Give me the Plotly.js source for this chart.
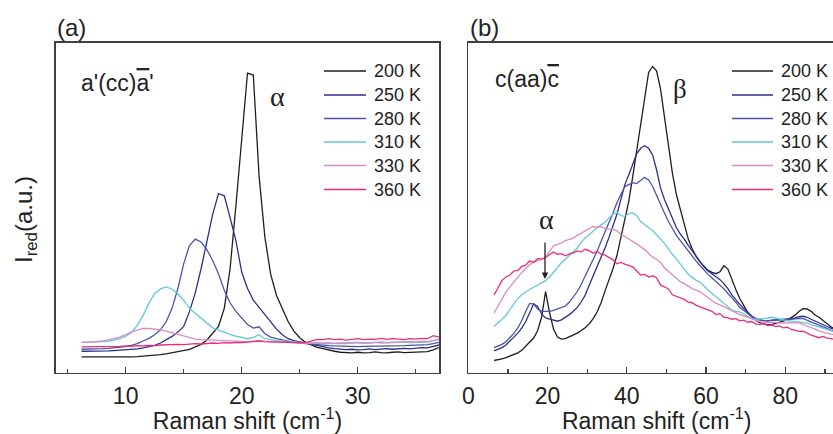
<!DOCTYPE html>
<html>
<head>
<meta charset="utf-8">
<script src="https://cdn.plot.ly/plotly-3.0.1.min.js"></script>
<style>
html,body{margin:0;padding:0;overflow:hidden;background:#fff;width:833px;height:434px;}
#chart{width:846px;height:434px;}
</style>
</head>
<body>
<div id="chart"></div>
<script>
// ---------- data ----------
const seriesNames = ['200 K', '250 K', '280 K', '310 K', '330 K', '360 K'];
const seriesColors = ['#1e1e1e', '#2b2f8c', '#4b55a6', '#62c9d8', '#d98bc6', '#ea2f78'];

// panel (a): a'(cc)a' spectra
const xA = [6.2, 6.5, 7, 7.5, 8, 8.5, 9, 9.5, 10, 10.5, 11, 11.5, 12, 12.5, 13, 13.5, 14, 14.5, 15, 15.5,
  16, 16.5, 17, 17.5, 18, 18.5, 19, 19.5, 20, 20.5, 21, 21.5, 22, 22.5, 23, 23.5, 24, 24.5, 25, 25.5,
  26, 26.5, 27, 27.5, 28, 28.5, 29, 29.5, 30, 30.5, 31, 31.5, 32, 32.5, 33, 33.5, 34, 34.5, 35, 35.5,
  36, 36.5, 37];
const a200 = [4.8, 4.8, 4.7, 4.7, 4.6, 4.7, 4.6, 4.7, 4.8, 4.8, 4.9, 5.0, 5.1, 5.3, 5.5, 5.7, 6.0, 6.4, 6.8, 7.1,
  7.8, 8.6, 9.9, 11.8, 14.0, 19.5, 31.5, 50.5, 71.5, 90.8, 90.2, 59.5, 41.0, 29.8, 23.4, 19.2, 15.5, 12.6, 10.6, 9.2,
  8.5, 7.7, 7.3, 6.8, 6.5, 6.2, 6.1, 6.0, 6.2, 6.0, 6.1, 6.3, 6.1, 6.0, 6.2, 6.3, 6.1, 6.2, 6.4, 6.3,
  6.4, 6.9, 7.6];
const a250 = [6.5, 6.5, 6.4, 6.5, 6.5, 6.6, 6.7, 6.8, 6.9, 7.0, 7.2, 7.5, 7.8, 8.3, 9.0, 9.9, 11.0, 12.3, 14.0, 18.5,
  24.2, 31.5, 39.5, 48.0, 54.3, 53.6, 47.0, 40.0, 30.5, 25.5, 22.0, 19.8, 17.8, 15.3, 13.2, 11.5, 10.3, 9.7, 9.3, 9.0,
  8.5, 8.1, 7.8, 7.5, 7.3, 7.1, 7.0, 7.1, 6.9, 7.0, 7.2, 7.0, 7.1, 7.3, 7.1, 7.2, 7.4, 7.2, 7.5, 7.6,
  7.5, 7.9, 8.4];
const a280 = [7.1, 7.1, 7.2, 7.2, 7.3, 7.4, 7.5, 7.7, 7.9, 8.3, 8.8, 9.6, 10.4, 11.5, 13.0, 15.5, 19.5, 25.5, 33.0, 38.5,
  40.5, 39.6, 37.3, 34.0, 30.0, 25.0, 21.2, 18.6, 16.5, 14.6, 13.5, 13.9, 11.8, 10.8, 10.3, 9.9, 9.5, 9.2, 9.0, 8.8,
  8.6, 8.4, 8.3, 8.2, 8.1, 8.0, 8.0, 7.9, 7.9, 8.0, 8.0, 8.2, 8.1, 8.0, 8.0, 8.1, 8.2, 8.3, 8.3, 8.4,
  8.5, 8.8, 9.2];
const a310 = [9.2, 9.2, 9.3, 9.3, 9.4, 9.5, 9.8, 10.3, 11.0, 12.2, 14.3, 17.3, 21.0, 24.0, 25.4, 26.0, 25.3, 23.9, 21.9, 19.6,
  18.0, 16.5, 14.8, 13.6, 12.9, 12.2, 11.6, 11.1, 10.6, 10.3, 10.7, 11.5, 10.3, 9.9, 9.7, 9.6, 9.4, 9.3, 9.1, 9.0,
  8.9, 9.0, 8.8, 8.9, 9.0, 8.9, 8.8, 9.0, 9.1, 8.9, 9.0, 9.2, 9.0, 9.1, 9.0, 9.2, 9.3, 9.1, 9.2, 9.4,
  9.3, 9.7, 10.2];
const a330 = [9.2, 9.2, 9.3, 9.4, 9.6, 9.9, 10.3, 10.8, 11.6, 12.3, 12.9, 13.4, 13.4, 13.3, 13.0, 12.6, 12.1, 11.6, 11.1, 10.6,
  10.2, 10.0, 9.9, 9.8, 9.7, 9.6, 9.6, 9.5, 9.5, 9.5, 9.6, 9.6, 9.5, 9.4, 9.3, 9.2, 9.2, 9.1, 9.0, 9.0,
  9.0, 8.9, 9.0, 9.1, 8.9, 9.0, 9.1, 9.0, 9.2, 9.1, 9.0, 9.2, 9.3, 9.1, 9.2, 9.3, 9.2, 9.4, 9.3, 9.5,
  9.4, 9.8, 10.0];
const a360 = [7.8, 7.8, 7.9, 7.8, 7.9, 8.0, 7.9, 8.0, 8.1, 8.0, 8.2, 8.1, 8.3, 8.2, 8.4, 8.5, 8.4, 8.6, 8.5, 8.7,
  8.8, 8.7, 8.9, 9.0, 8.9, 9.1, 9.0, 9.2, 9.1, 9.3, 9.4, 9.6, 9.4, 9.3, 9.4, 9.2, 9.3, 9.1, 9.2, 9.1,
  9.6, 10.1, 10.0, 10.3, 10.0, 10.2, 9.9, 10.1, 10.3, 10.0, 10.2, 10.1, 10.4, 10.1, 10.3, 10.2, 10.0, 10.3, 10.2, 10.4,
  10.3, 11.2, 10.8];

// panel (b): c(aa)c spectra
const xB = [6.5, 7.5, 8.5, 9.5, 10.5, 11.5, 12.5, 13.5, 14.5, 15.5,
  16.5, 17.5, 18.5, 19.5, 20.5, 21.5, 22.5, 23.5, 24.5, 25.5,
  26.5, 27.5, 28.5, 29.5, 30.5, 31.5, 32.5, 33.5, 34.5, 35.5,
  36.5, 37.5, 38.5, 39.5, 40.5, 41.5, 42.5, 43.5, 44.5, 45.5,
  46.5, 47.5, 48.5, 49.5, 50.5, 51.5, 52.5, 53.5, 54.5, 55.5,
  56.5, 57.5, 58.5, 59.5, 60.5, 61.5, 62.5, 63.5, 64.5, 65.5,
  66.5, 67.5, 68.5, 69.5, 70.5, 71.5, 72.5, 73.5, 74.5, 75.5,
  76.5, 77.5, 78.5, 79.5, 80.5, 81.5, 82.5, 83.5, 84.5, 85.5,
  86.5, 87.5, 88.5, 89.5, 90.5, 91.5, 92.5];
const b200 = [3.7, 3.9, 4.2, 4.6, 5.0, 5.4, 6.0, 6.8, 7.9, 9.3,
  10.5, 12.8, 16.8, 24.6, 18.2, 13.2, 10.8, 10.2, 10.3, 10.8,
  11.4, 12.0, 12.8, 13.6, 14.8, 16.4, 18.4, 21.2, 24.8, 28.0,
  31.5, 35.5, 41.0, 46.0, 52.0, 59.5, 67.5, 75.5, 84.5, 91.0,
  92.8, 91.5, 86.0, 77.5, 68.0, 60.5, 54.0, 49.5, 45.0, 40.5,
  37.5, 35.2, 33.5, 32.2, 31.0, 30.4, 30.0, 30.6, 32.4, 31.4,
  28.0, 25.2, 22.5, 20.3, 18.3, 17.0, 15.9, 15.2, 14.8, 14.5,
  14.6, 14.9, 15.3, 15.5, 16.0, 16.7, 17.5, 18.6, 19.4, 19.3,
  18.6, 17.5, 16.8, 15.8, 14.8, 13.9, 13.2];
const b250 = [6.6, 7.0, 7.6, 8.4, 9.5, 10.6, 12.0, 13.6, 15.5, 18.2,
  20.9, 20.0, 17.8, 16.6, 16.3, 15.8, 15.6, 16.0, 16.7, 17.6,
  18.6, 19.8, 21.5, 23.5, 26.5, 29.3, 31.8, 34.6, 37.8, 41.0,
  44.5, 48.0, 52.5, 57.0, 60.0, 63.2, 66.4, 68.0, 68.8, 68.0,
  66.0, 61.5, 56.0, 52.5, 49.5, 46.5, 44.0, 42.0, 40.5, 38.6,
  37.0, 35.5, 33.8, 32.0, 30.8, 30.0, 29.1, 28.2, 27.0, 25.5,
  23.6, 22.0, 20.7, 19.5, 18.2, 17.2, 16.5, 16.0, 15.8, 15.7,
  15.9, 16.0, 16.1, 16.0, 16.2, 16.4, 16.6, 17.0, 17.1, 16.8,
  16.2, 15.6, 15.2, 14.6, 14.0, 13.5, 13.1];
const b280 = [7.6, 8.0, 8.6, 9.4, 10.5, 11.9, 13.6, 15.8, 18.6, 21.0,
  20.8, 19.3, 18.6, 18.5, 18.6, 18.9, 19.3, 19.7, 20.2, 21.4,
  22.9, 24.6, 26.8, 29.2, 31.6, 34.2, 36.8, 39.8, 42.5, 45.3,
  48.3, 51.5, 54.2, 56.4, 57.0, 57.6, 57.3, 58.3, 59.2, 58.4,
  56.5, 53.8, 50.8, 48.4, 45.8, 43.6, 41.6, 40.0, 38.4, 36.8,
  35.3, 33.8, 32.4, 31.0, 29.8, 28.7, 27.6, 26.6, 25.4, 24.0,
  22.8, 21.4, 19.8, 18.8, 17.8, 17.0, 16.4, 16.0, 15.8, 15.7,
  15.8, 16.0, 15.9, 16.1, 16.0, 16.2, 16.3, 16.5, 16.4, 15.9,
  15.3, 14.8, 14.4, 13.8, 13.4, 12.9, 12.6];
const b310 = [14.0, 15.0, 16.2, 17.4, 19.2, 20.8, 22.5, 23.6, 24.5, 25.3,
  25.9, 26.6, 27.2, 27.9, 29.0, 30.5, 32.0, 33.3, 34.4, 35.6,
  36.6, 37.8, 39.5, 40.9, 41.8, 43.0, 44.0, 44.8, 45.6, 46.9,
  48.0, 48.6, 47.6, 47.4, 48.2, 48.5, 47.6, 45.8, 44.8, 43.9,
  43.1, 41.8, 40.6, 39.2, 37.5, 35.8, 34.5, 33.0, 31.2, 29.8,
  28.8, 28.0, 27.5, 26.2, 25.0, 24.0, 23.0, 22.0, 21.0, 20.0,
  19.0, 18.6, 18.4, 17.8, 17.0, 16.4, 16.2, 16.3, 16.2, 16.5,
  16.8, 16.5, 16.3, 16.0, 15.8, 15.6, 15.5, 15.4, 15.2, 15.0,
  14.6, 14.2, 13.8, 13.4, 13.0, 12.6, 12.4];
const b330 = [18.1, 20.0, 22.3, 24.5, 26.0, 27.6, 29.0, 30.4, 31.6, 32.8,
  33.5, 33.8, 34.3, 35.0, 36.8, 38.4, 38.9, 39.3, 40.0, 40.4,
  40.8, 41.6, 42.3, 42.8, 43.6, 44.3, 44.0, 44.2, 43.8, 43.5,
  43.5, 43.0, 41.8, 41.3, 40.5, 39.8, 39.0, 38.2, 37.3, 36.0,
  35.0, 34.4, 33.4, 31.8, 30.8, 29.8, 28.6, 27.6, 27.0, 26.2,
  25.5, 25.0, 24.5, 23.6, 22.6, 21.8, 21.1, 20.6, 20.0, 19.4,
  18.8, 18.1, 17.6, 17.2, 16.8, 16.2, 15.8, 15.5, 15.4, 15.2,
  15.3, 15.1, 15.1, 15.0, 15.2, 15.1, 15.0, 15.1, 14.6, 14.2,
  13.8, 13.2, 12.6, 12.4, 12.0, 11.7, 11.5];
const b360 = [23.6, 25.8, 27.9, 29.0, 29.6, 30.8, 31.0, 32.2, 32.6, 33.9,
  33.4, 34.6, 34.4, 34.9, 35.8, 36.6, 35.9, 36.1, 35.4, 36.0,
  36.3, 36.9, 36.6, 37.4, 37.0, 36.2, 36.8, 35.9, 35.6, 35.0,
  34.2, 33.0, 33.4, 32.9, 32.5, 32.1, 30.8, 29.6, 29.8, 29.0,
  29.4, 28.8, 26.6, 26.0, 25.4, 23.6, 23.2, 22.6, 22.2, 21.4,
  21.2, 20.4, 20.0, 19.6, 19.0, 18.6, 17.6, 17.9, 16.8, 16.7,
  16.2, 16.4, 15.7, 15.9, 15.3, 15.5, 14.8, 14.6, 14.9, 14.3,
  14.5, 14.0, 14.2, 13.6, 13.8, 13.1, 12.8, 12.5, 12.6, 11.9,
  11.4, 11.0, 10.6, 11.0, 10.5, 10.3, 10.1];

const xTickLabelsA = [10, 20, 30];
const xTickLabelsB = [0, 20, 40, 60, 80];

// ---------- layout helpers ----------
const W = 846, H = 434;
const fx = p => p / W;
const fy = p => 1 - p / H;
const FONT = 'Liberation Sans, Arial, Helvetica, sans-serif';
const SERIF = 'Liberation Serif, Times New Roman, serif';
const AX = '#404040';

const seriesA = [a200, a250, a280, a310, a330, a360];
const seriesB = [b200, b250, b280, b310, b330, b360];

const traces = [];
seriesA.forEach((ys, i) => traces.push({
  x: xA, y: ys, xaxis: 'x', yaxis: 'y', type: 'scatter', mode: 'lines', name: seriesNames[i],
  line: {color: seriesColors[i], width: 1.3}, showlegend: false, hoverinfo: 'skip'
}));
seriesB.forEach((ys, i) => traces.push({
  x: xB, y: ys, xaxis: 'x2', yaxis: 'y2', type: 'scatter', mode: 'lines', name: seriesNames[i],
  line: {color: seriesColors[i], width: 1.3}, showlegend: false, hoverinfo: 'skip'
}));

function xAxis(domain, range, ticks, minorStep, anchor) {
  return {
    domain: domain, range: range, anchor: anchor,
    showline: true, mirror: true, linecolor: AX, linewidth: 1.6,
    showgrid: false, zeroline: false,
    tickmode: 'array', tickvals: ticks, ticktext: ticks.map(String),
    ticks: 'inside', ticklen: 6, tickwidth: 1.3, tickcolor: AX,
    minor: {ticks: 'inside', ticklen: 3.5, tickwidth: 1.3, tickcolor: AX, dtick: minorStep, tick0: 0, showgrid: false},
    ticklabelstandoff: 2,
    tickfont: {family: FONT, size: 23, color: '#222'},
    title: {text: 'Raman shift (cm<sup>-1</sup>)', font: {family: FONT, size: 23, color: '#222'}, standoff: 4},
    automargin: false
  };
}
function yAxis(anchor) {
  return {
    domain: [fy(372.7), fy(42.7)], range: [0, 100], anchor: anchor,
    showline: true, mirror: true, linecolor: AX, linewidth: 1.6,
    showgrid: false, zeroline: false, ticks: '', showticklabels: false, automargin: false
  };
}

const rowsY = [71, 95, 118.5, 142, 165.5, 189.5];
const shapes = [];
const annotations = [];
[[324, 366, 372], [732, 773, 779]].forEach(([x0, x1, tx]) => {
  seriesNames.forEach((nm, i) => {
    shapes.push({type: 'line', xref: 'paper', yref: 'paper', x0: fx(x0), x1: fx(x1), y0: fy(rowsY[i]), y1: fy(rowsY[i]),
      line: {color: seriesColors[i], width: 1.6}});
    annotations.push({xref: 'paper', yref: 'paper', x: fx(tx), y: fy(rowsY[i]), xanchor: 'left', yanchor: 'middle',
      text: nm, showarrow: false, font: {family: FONT, size: 18, color: '#222'}});
  });
});

function txt(text, x, y, size, family, xanchor, extra) {
  return Object.assign({xref: 'paper', yref: 'paper', x: fx(x), y: fy(y), xanchor: xanchor || 'left', yanchor: 'middle',
    text: text, showarrow: false, font: {family: family || FONT, size: size, color: '#222'}}, extra || {});
}
annotations.push(txt('(a)', 55, 27, 24));
annotations.push(txt('(b)', 468, 27, 24));
annotations.push(txt("a'(cc)<span style=\"text-decoration:overline\">a</span>'", 79, 83, 23));
annotations.push(txt("c(aa)<span style=\"text-decoration:overline\">c</span>", 493, 79, 23));
annotations.push(txt('α', 277, 97, 28, SERIF, 'center'));
annotations.push(txt('β', 680, 89, 27, SERIF, 'center'));
annotations.push(txt('α', 546, 219, 28, SERIF, 'center'));
annotations.push(txt('I<sub>red</sub>(a.u.)', 25, 220, 24, FONT, 'center', {textangle: -90}));
// arrow marking the alpha mode in panel (b)
annotations.push({xref: 'paper', yref: 'paper', x: fx(545), y: fy(279), ax: 0, ay: -38, text: '', showarrow: true,
  arrowhead: 2, arrowsize: 1, arrowwidth: 1.3, arrowcolor: '#222'});

const layout = {
  width: W, height: H, margin: {l: 0, r: 0, t: 0, b: 0},
  paper_bgcolor: '#fff', plot_bgcolor: '#fff', showlegend: false,
  font: {family: FONT, color: '#222'},
  xaxis: xAxis([fx(56), fx(439)], [4, 37], xTickLabelsA, 5, 'y'),
  yaxis: yAxis('x'),
  xaxis2: xAxis([fx(468.3), fx(845)], [0, 95.05], xTickLabelsB, 10, 'y2'),
  yaxis2: yAxis('x2'),
  shapes: shapes, annotations: annotations
};

Plotly.newPlot('chart', traces, layout, {staticPlot: true, displayModeBar: false});
</script>
</body>
</html>
